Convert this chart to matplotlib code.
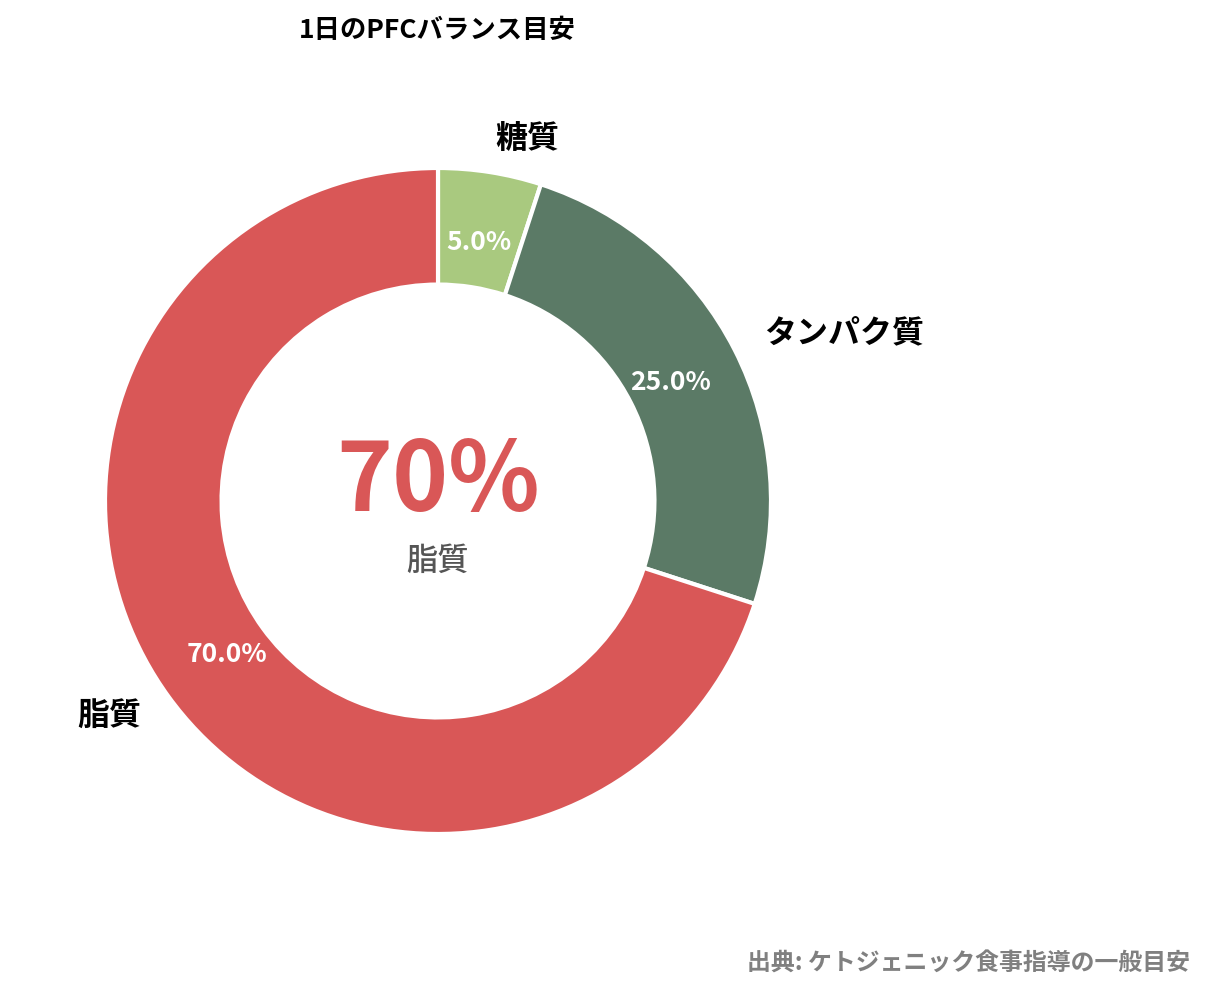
import matplotlib
matplotlib.use("Agg")
import matplotlib.pyplot as plt

plt.rcParams['font.family'] = ['Noto Sans CJK JP', 'DejaVu Sans']

categories = ["糖質", "タンパク質", "脂質"]
values = [5.0, 25.0, 70.0]
colors = ["#a9c97f", "#5b7a66", "#d95757"]
title = "1日のPFCバランス目安"
center_value = "70%"
center_label = "脂質"
source = "出典: ケトジェニック食事指導の一般目安"

W, H = 1209, 998
fig = plt.figure(figsize=(W / 100, H / 100), dpi=100)
R = 333.0
cx, cy = 438.0, H - 501.0
span = 1.5
size = 2 * span * R
ax = fig.add_axes([(cx - size / 2) / W, (cy - size / 2) / H, size / W, size / H])

wedges, texts, autotexts = ax.pie(
    values, labels=categories, colors=colors, startangle=90, counterclock=False,
    autopct='%1.1f%%', pctdistance=0.785, labeldistance=1.1, radius=1,
    wedgeprops=dict(width=0.35, edgecolor='white', linewidth=3),
    textprops=dict(fontsize=23, fontweight='bold', color='black'))
for t in autotexts:
    t.set_color('white')
    t.set_fontsize(19)
    t.set_fontweight('bold')

ax.text(0, 0.053, center_value, ha='center', va='center', fontsize=68.5,
        fontweight='bold', color=colors[2])
ax.text(0, -0.18, center_label, ha='center', va='center', fontsize=22.5,
        fontweight='medium', color='#555555')
ax.set_xlim(-span, span)
ax.set_ylim(-span, span)
ax.set_aspect('equal')
ax.axis('off')

fig.text(437 / W, 1 - 30 / H, title, ha='center', va='center', fontsize=19,
         fontweight='bold', color='black')
fig.text(1190 / W, 1 - 964 / H, source, ha='right', va='center', fontsize=17.2,
         fontweight='bold', color='#808080')

fig.savefig("out.png", dpi=100, facecolor='white')
